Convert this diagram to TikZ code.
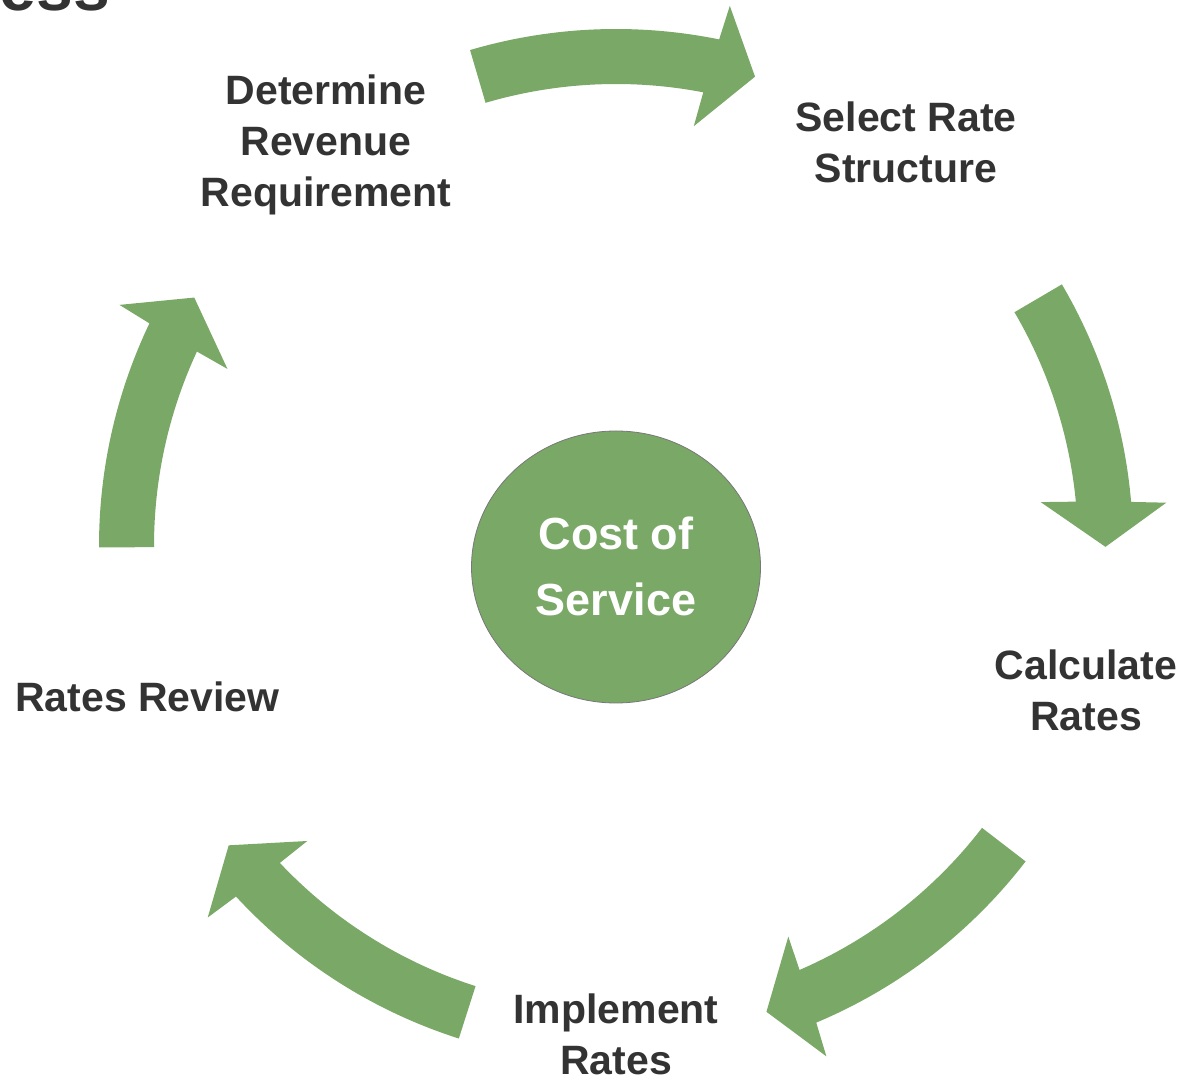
\documentclass[tikz,border=0pt]{standalone}
\usepackage{fontspec}
\usetikzlibrary{shapes.geometric}
\setmainfont{Liberation Sans}
\definecolor{cyclegreen}{RGB}{122,168,102}
\definecolor{labeltext}{RGB}{51,51,51}
\definecolor{ringgray}{RGB}{120,120,120}
\tikzset{
  arrowfill/.style={fill=cyclegreen},
  steplabel/.style={font=\fontsize{41}{51}\selectfont\bfseries, text=labeltext, align=center, inner sep=0pt, anchor=base},
  centerlabel/.style={font=\fontsize{45}{66}\selectfont\bfseries, text=white, align=center, inner sep=0pt, anchor=base},
}
\newcommand\cycarrow[3]{% tail angle, head-base angle, tip angle
  \fill[arrowfill] (#1:517pt) arc[start angle=#1, end angle={#2-0.31}, radius=517pt]
    -- ({#2-0.7}:552pt) -- (#3:489.5pt) -- ({#2+0.7}:427pt) -- ({#2+0.31}:462pt)
    arc[start angle={#2+0.31}, end angle=#1, radius=462pt] -- cycle;}
\begin{document}
\begin{tikzpicture}[x=1pt,y=1pt]
  \useasboundingbox (0,0) rectangle (1189,1082);
  \clip (0,0) rectangle (1189,1082);
  \fill[white] (0,0) rectangle (1189,1082);
  % clipped title fragment
  \node[font=\fontsize{66}{70}\selectfont\bfseries, text=labeltext, inner sep=0pt, anchor=base east] (ttl) at (110,1071) {ess};
  % arrows
  \begin{scope}[shift={(616,536)}]
    \cycarrow{106.4}{78.8}{73.5}
    \cycarrow{30.4}{5.2}{-0.1}
    \cycarrow{-37.6}{-66.9}{-72.1}
    \cycarrow{-107.7}{-137}{-142.3}
    \cycarrow{180.15}{154.8}{149.5}
  \end{scope}
  % centre
  \node[ellipse, draw=ringgray, line width=0.8pt, fill=cyclegreen, minimum width=289pt, minimum height=272pt, inner sep=0pt] (core) at (616,515) {};
  \node[centerlabel] (cos) at (616,466) {Cost of\\Service};
  % step labels (anchor = baseline of last line)
  \node[steplabel] (det) at (326,875) {Determine\\Revenue\\Requirement};
  \node[steplabel] (sel) at (906,899) {Select Rate\\Structure};
  \node[steplabel] (calc) at (1086,351) {Calculate\\Rates};
  \node[steplabel] (impl) at (616,8) {Implement\\Rates};
  \node[steplabel] (rev) at (147.5,370) {Rates Review};
\end{tikzpicture}
\end{document}
